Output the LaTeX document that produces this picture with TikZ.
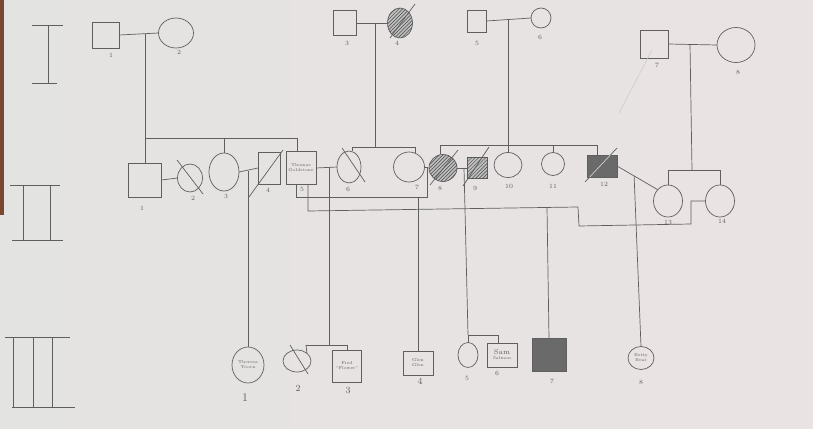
\documentclass[tikz,border=0pt]{standalone}
\usetikzlibrary{shapes.geometric,patterns,calc}
\definecolor{pen}{HTML}{5F5F5F}
\definecolor{paperL}{HTML}{E3E3E1}
\definecolor{paperR}{HTML}{EAE3E4}
\definecolor{hatch}{HTML}{4A4A4A}
\definecolor{darkfill}{HTML}{6A6A6A}
\definecolor{edge}{HTML}{7A4630}
\tikzset{
  pencil/.style={draw=pen, line width=0.6pt},
  conn/.style={pencil},
  faint/.style={draw=pen!35, line width=0.4pt},
  sz/.style 2 args={minimum width=#1*0.03cm, minimum height=#2*0.03cm},
  male/.style={pencil, rectangle, inner sep=0pt, outer sep=0pt},
  female/.style={pencil, ellipse, inner sep=0pt, outer sep=0pt},
  hatched/.style={fill=gray!50, postaction={pattern=north east lines, pattern color=hatch}},
  solidfill/.style={fill=darkfill},
  lbl/.style={text=pen, font=\fontsize{5.5}{6}\selectfont, inner sep=0pt},
  biglbl/.style={text=pen, font=\fontsize{8}{9}\selectfont, inner sep=0pt},
  intext/.style={text=pen, font=\fontsize{3.6}{4.2}\selectfont, align=center},
}
\begin{document}
\begin{tikzpicture}[x=0.03cm,y=-0.03cm]
\shade[left color=paperL, right color=paperR] (0,0) rectangle (813,429);
\useasboundingbox (0,0) rectangle (813,429);
\fill[edge] (0,0) rectangle (4,215);

% generation markers
\draw[pencil] (32,25) -- (63,25) (48,25) -- (48,83) (32,83) -- (57,83);
\draw[pencil] (10,185) -- (60,185) (23,185) -- (23,240) (50,185) -- (50,240) (12,240) -- (63,240);
\draw[pencil] (5,337) -- (70,337) (13,337) -- (13,407) (33,337) -- (33,407) (52,337) -- (52,407) (12,407) -- (75,407);

% ---------- generation I ----------
\node[male, sz={27}{26}] (I1) at (106,35) {};
\node[female, sz={35}{30}] (I2) at (176,33) {};
\node[male, sz={23}{25}] (I3) at (345,23) {};
\node[female, hatched, sz={25}{30}] (I4) at (400,23) {};
\node[male, sz={19}{22}] (I5) at (477,21) {};
\node[female, sz={20}{20}] (I6) at (541,18) {};
\node[male, sz={28}{28}] (I7) at (654,44) {};
\node[female, sz={38}{35}] (I8) at (736,45) {};

\node[lbl] (lI1) at (111,55) {1};
\node[lbl] (lI2) at (179,52) {2};
\node[lbl] (lI3) at (347,43) {3};
\node[lbl] (lI4) at (397,43) {4};
\node[lbl] (lI5) at (477,43) {5};
\node[lbl] (lI6) at (540,37) {6};
\node[lbl] (lI7) at (657,65) {7};
\node[lbl] (lI8) at (738,72) {8};

% ---------- generation II ----------
\node[male, sz={33}{34}] (II1) at (145,180) {};
\node[female, sz={25}{28}] (II2) at (190,178) {};
\node[female, sz={30}{38}] (II3) at (224,172) {};
\node[male, sz={22}{32}] (II4) at (269,168) {};
\node[male, sz={30}{33}, intext] (II5) at (301,168) {Thomas\\Goldstone};
\node[female, sz={24}{32}] (II6) at (349,167) {};
\node[female, sz={31}{30}] (II7) at (409,167) {};
\node[female, hatched, sz={28}{27}] (II8) at (443,168) {};
\node[male, hatched, sz={20}{21}] (II9) at (477,168) {};
\node[female, sz={28}{25}] (II10) at (508,165) {};
\node[female, sz={23}{23}] (II11) at (553,164) {};
\node[male, solidfill, sz={30}{22}] (II12) at (602,166) {};
\node[female, sz={29}{32}] (II13) at (668,201) {};
\node[female, sz={29}{32}] (II14) at (720,201) {};

\node[lbl] (lII1) at (142,208) {1};
\node[lbl] (lII2) at (193,198) {2};
\node[lbl] (lII3) at (226,196) {3};
\node[lbl] (lII4) at (268,190) {4};
\node[lbl] (lII5) at (302,189) {5};
\node[lbl] (lII6) at (348,189) {6};
\node[lbl] (lII7) at (417,187) {7};
\node[lbl] (lII8) at (440,188) {8};
\node[lbl] (lII9) at (475,188) {9};
\node[lbl] (lII10) at (509,186) {10};
\node[lbl] (lII11) at (553,186) {11};
\node[lbl] (lII12) at (604,184) {12};
\node[lbl] (lII13) at (668,222) {13};
\node[lbl] (lII14) at (722,221) {14};

% ---------- generation III ----------
\node[female, sz={32}{36}, intext] (III1) at (248,365) {Theresa\\Toorn};
\node[female, sz={28}{22}] (III2) at (297,361) {};
\node[male, sz={29}{32}, intext] (III3) at (347,366) {Fred\\``Flower''};
\node[male, sz={30}{24}, intext] (III4) at (418,363) {Glen\\Glen};
\node[female, sz={20}{25}] (III5) at (468,355) {};
\node[male, sz={30}{24}, intext] (III6) at (502,355) {{\fontsize{6}{6}\selectfont Sam}\\Salmon};
\node[male, solidfill, sz={34}{33}] (III7) at (549,355) {};
\node[female, sz={26}{23}, intext] (III8) at (641,358) {Betty\\Bear};

\node[biglbl, font=\fontsize{10}{11}\selectfont] (lIII1) at (245,398) {1};
\node[biglbl] (lIII2) at (298,388) {2};
\node[biglbl] (lIII3) at (348,390) {3};
\node[biglbl] (lIII4) at (420,381) {4};
\node[lbl] (lIII5) at (467,378) {5};
\node[lbl] (lIII6) at (497,373) {6};
\node[lbl] (lIII7) at (552,381) {7};
\node[lbl] (lIII8) at (641,382) {8};

% ---------- deceased slashes ----------
\draw[pencil] ($(I4.center)+(-10,15)$) -- ($(I4.center)+(15,-19)$);
\draw[pencil] ($(II2.center)+(-13,-18)$) -- ($(II2.center)+(13,16)$);
\draw[pencil] ($(II4.center)+(-20,29)$) -- ($(II4.center)+(14,-18)$);
\draw[pencil] ($(II6.center)+(-7,-19)$) -- ($(II6.center)+(16,15)$);
\draw[pencil] ($(II8.center)+(-13,17)$) -- ($(II8.center)+(15,-18)$);
\draw[pencil] ($(II9.center)+(-14,18)$) -- ($(II9.center)+(12,-21)$);
\draw[pencil] ($(II12.center)+(-17,16)$) -- ($(II12.center)+(15,-18)$);
\draw[draw=gray!35, line width=0.6pt] ($(II12.center)+(-12.3,11)$) -- ($(II12.center)+(8.4,-11)$);
\draw[pencil] ($(III2.center)+(-7,-16)$) -- ($(III2.center)+(11,13)$);

% ---------- connectors ----------
% I1 x I2
\draw[conn] (I1.east) -- (I2.west);
\coordinate (mI12) at (145,34);
\coordinate (sI1l) at (145,138);
\coordinate (sI1m) at (224,138);
\coordinate (sI1r) at (297,138);
\draw[conn] (mI12) -- (II1.north);
\draw[conn] (sI1l) -- (sI1r);
\draw[conn] (sI1m) -- (II3.north);
\draw[conn] (sI1r) -- (sI1r |- II5.north);

% I3 x I4
\draw[conn] (I3.east) -- (I4.west);
\coordinate (mI34) at (375,23);
\coordinate (sI34c) at (375,147);
\coordinate (sI34l) at (352,147);
\coordinate (sI34r) at (415,147);
\draw[conn] (mI34) -- (sI34c);
\draw[conn] (sI34l) -- (sI34r);
\draw[conn] (sI34l) -- (sI34l |- II6.north);
\draw[conn] (sI34r) -- ($(sI34r |- II7.north)+(0,1)$);

% I5 x I6
\draw[conn] (I5.east) -- (I6.west);
\coordinate (mI56) at (508,20);
\coordinate (sI56l) at (440,145);
\coordinate (sI56m) at (553,145);
\coordinate (sI56r) at (597,145);
\draw[conn] (mI56) -- (II10.north);
\draw[conn] (sI56l) -- (sI56r);
\draw[conn] (sI56l) -- (sI56l |- II8.north);
\draw[conn] (sI56m) -- (II11.north);
\draw[conn] (sI56r) -- (sI56r |- II12.north);

% I7 x I8
\draw[conn] (I7.east) -- (I8.west);
\coordinate (mI78) at (690,44);
\coordinate (sI78c) at (692,170);
\coordinate (sI78l) at (668,170);
\coordinate (sI78r) at (720,170);
\draw[conn] (mI78) -- (sI78c);
\draw[conn] (sI78l) -- (sI78r);
\draw[conn] (sI78l) -- (II13.north);
\draw[conn] (sI78r) -- (II14.north);
\coordinate (f1) at (652,50);
\coordinate (f2) at (619,113);
\draw[faint] (f1) -- (f2);

% II1 x II2
\draw[conn] (II1.east) -- (II2.west);

% II3 x II4 -> III1
\draw[conn] (II3.east) -- (II4.west);
\coordinate (m34) at (248,171);
\draw[conn] (m34) -- (III1.north);

% II5 x II6 -> III2, III3
\draw[conn] (II5.east) -- (II6.west);
\coordinate (m56) at (329,167);
\coordinate (s56c) at (329,345);
\coordinate (s56l) at (306,345);
\coordinate (s56r) at (347,345);
\draw[conn] (m56) -- (s56c);
\draw[conn] (s56l) -- (s56r);
\draw[conn] (s56l) -- (III2.north east);
\draw[conn] (s56r) -- (III3.north);

% II5 x II7 -> III4
\coordinate (u1) at ($(II5.south)+(-5,0)$);
\coordinate (u2) at (427,197);
\draw[conn] (u1) |- (u2) |- (II7.east);
\coordinate (c57) at (418,197);
\draw[conn] (c57) -- (III4.north);

% II5 x II14 -> III7
\coordinate (v1) at ($(II5.south)+(7,0)$);
\coordinate (v2) at (308,211);
\coordinate (v3) at (578,207);
\coordinate (v4) at (579,226);
\coordinate (v5) at (691,224);
\coordinate (v6) at (691,201);
\draw[conn] (v1) -- (v2) -- (v3) -- (v4) -- (v5) -- (v6) -- (II14.west);
\coordinate (c514) at (547,207.5);
\draw[conn] (c514) -- (III7.north);

% II8 x II9 -> III5, III6
\draw[conn] (II8.east) -- (II9.west);
\coordinate (m89) at (464,168);
\coordinate (s89l) at (468,335);
\coordinate (s89r) at (498,335);
\draw[conn] (m89) -- (s89l);
\draw[conn] (s89l) -- (s89r);
\draw[conn] (s89l) -- (III5.north);
\draw[conn] (s89r) -- (s89r |- III6.north);

% II12 x II13 -> III8
\draw[conn] (II12.east) -- (II13.north west);
\coordinate (m1213) at ($(II12.east)!0.42!(II13.north west)$);
\draw[conn] (m1213) -- (III8.north);
\end{tikzpicture}
\end{document}
